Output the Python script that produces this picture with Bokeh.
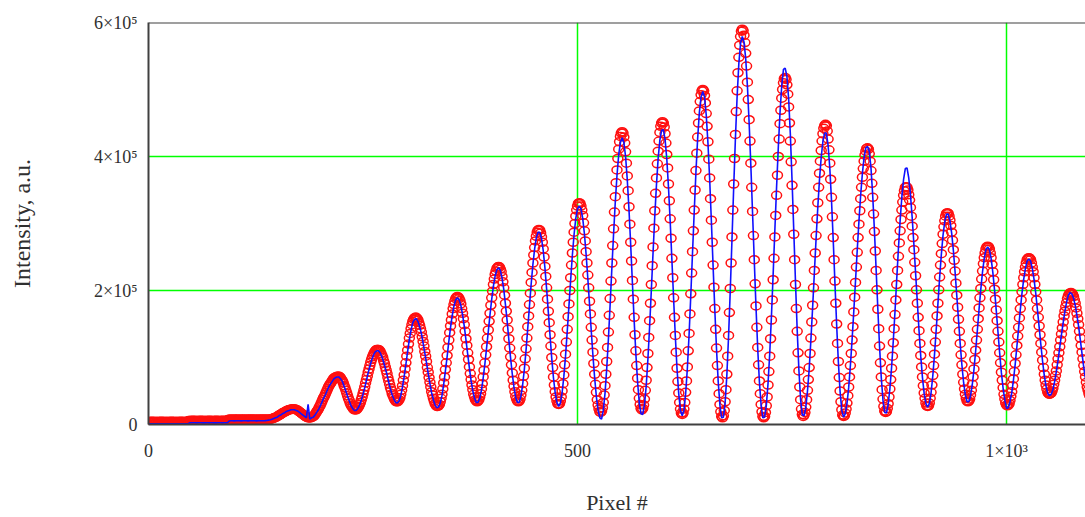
from bokeh.plotting import figure
from bokeh.models import ColumnDataSource, FixedTicker, Span
from bokeh.embed import file_html
from bokeh.resources import INLINE

# Measured intensity of every detector pixel (pixel 0, 1, 2, ...), in 10^3 counts
raw_counts_k = [
    # pixels 0-46
    4.5, 4.6, 4.4, 4.5, 4.7, 4.5, 4.3, 4.5, 4.6, 4.4, 4.5, 4.5, 4.6, 4.4, 4.5, 4.7, 4.5, 4.4, 4.6, 4.5,
    4.3, 4.5, 4.6, 4.5, 4.4, 4.6, 4.5, 4.7, 4.5, 4.4, 4.6, 4.5, 4.5, 4.3, 4.6, 4.5, 4.4, 4.6, 4.7, 4.5,
    4.6, 4.5, 4.4, 4.6, 4.5, 4.7, 4.6,
    # pixels 47-92
    5.8, 6.0, 6.1, 5.9, 6.0, 6.2, 5.9, 6.0, 6.1, 5.8, 6.0, 6.1, 5.9, 6.0, 6.2, 6.0, 5.9, 6.1, 6.0, 5.8,
    6.0, 6.1, 6.0, 5.9, 6.2, 6.0, 6.1, 5.9, 6.0, 6.1, 5.8, 6.0, 6.2, 6.0, 5.9, 6.1, 6.0, 6.0, 5.9, 6.1,
    6.2, 6.0, 6.1, 5.9, 6.0, 6.2,
    # pixels 93-140
    7.6, 7.8, 7.7, 7.9, 7.8, 7.6, 7.8, 8.0, 7.7, 7.8, 7.9, 7.7, 7.8, 7.6, 7.8, 8.0, 7.8, 7.7, 7.9, 7.8,
    7.6, 7.8, 7.9, 7.7, 7.8, 8.0, 7.8, 7.7, 7.9, 7.8, 7.7, 7.8, 8.0, 7.8, 7.6, 7.9, 7.8, 7.7, 7.8, 8.0,
    7.9, 7.8, 7.7, 7.9, 8.0, 7.8, 7.9, 8.0,
    # pixels 141-188
    8, 8, 8, 9, 9, 10, 10, 11, 11, 12, 13, 14, 14, 15, 16, 17, 18, 18, 19, 20, 20, 21, 22, 22, 22, 23, 23, 23, 23,
    23, 23, 22, 22, 21, 20, 19, 18, 17, 16, 15, 14, 13, 12, 11, 11, 10, 10, 10,
    # pixels 189-241
    10, 11, 11, 12, 13, 15, 17, 19, 21, 23, 26, 28, 31, 34, 37, 40, 42, 45, 48, 51, 54, 57, 59, 61, 63, 65, 67, 69, 70, 71, 71, 72, 72,
    72, 71, 69, 67, 65, 62, 58, 55, 51, 47, 43, 39, 36, 32, 29, 27, 25, 23, 22, 22,
    # pixels 242-290
    22, 23, 25, 27, 30, 33, 37, 41, 46, 51, 56, 62, 67, 72, 78, 83, 88, 93, 97, 101, 104, 107, 109, 111, 112, 112,
    112, 111, 109, 106, 103, 100, 95, 91, 86, 81, 76, 70, 65, 60, 55, 51, 46, 43, 40, 37, 35, 34, 34,
    # pixels 291-337
    35, 37, 40, 45, 51, 58, 66, 74, 83, 92, 102, 111, 120, 129, 136, 143, 149, 154, 157, 159, 160,
    160, 158, 156, 152, 148, 143, 138, 131, 124, 117, 109, 102, 94, 85, 78, 70, 63, 56, 49, 44, 39, 35, 31, 29, 27, 27,
    # pixels 338-383
    28, 30, 34, 39, 45, 53, 62, 71, 82, 92, 103, 115, 126, 137, 147, 156, 165, 173, 179, 184, 188, 190, 191,
    190, 188, 185, 180, 173, 166, 158, 149, 139, 128, 118, 107, 97, 86, 76, 67, 59, 52, 45, 41, 37, 35, 34,
    # pixels 384-431
    35, 37, 41, 46, 53, 61, 71, 81, 92, 104, 116, 129, 141, 154, 166, 178, 189, 199, 209, 217, 224, 229, 233, 235, 236,
    235, 232, 228, 221, 213, 204, 193, 181, 169, 156, 142, 128, 114, 101, 89, 77, 66, 57, 49, 42, 38, 35, 34,
    # pixels 432-478
    35, 38, 44, 51, 61, 72, 84, 98, 113, 129, 146, 162, 179, 196, 212, 227, 241, 253, 264, 274, 281, 287, 290, 291,
    290, 286, 280, 272, 262, 250, 236, 221, 204, 187, 169, 152, 134, 117, 100, 85, 71, 59, 49, 41, 35, 31, 30,
    # pixels 479-527
    31, 35, 41, 50, 61, 74, 89, 105, 123, 142, 161, 180, 200, 219, 238, 256, 272, 287, 300, 311, 320, 326, 330, 331,
    330, 326, 320, 312, 301, 289, 274, 258, 241, 223, 204, 184, 165, 145, 126, 108, 91, 75, 60, 48, 37, 29, 23, 19, 18,
    # pixels 528-575
    20, 25, 33, 44, 58, 75, 94, 115, 138, 163, 188, 214, 241, 267, 292, 317, 340, 361, 380, 397, 411, 422, 430, 435, 437,
    435, 429, 420, 407, 390, 371, 349, 325, 299, 272, 244, 215, 187, 160, 134, 110, 88, 69, 52, 39, 30, 24, 22,
    # pixels 576-622
    24, 29, 38, 51, 66, 85, 106, 130, 155, 181, 209, 237, 265, 293, 319, 345, 368, 389, 408, 423, 436, 445, 450, 452,
    450, 444, 434, 420, 403, 383, 359, 334, 307, 278, 248, 219, 189, 160, 133, 108, 84, 64, 47, 33, 23, 17, 15,
    # pixels 623-669
    17, 23, 33, 48, 65, 86, 110, 136, 165, 195, 226, 258, 289, 320, 350, 379, 405, 429, 450, 468, 482, 492, 498, 500,
    498, 491, 480, 464, 445, 422, 396, 368, 337, 305, 272, 238, 205, 173, 142, 114, 88, 65, 46, 30, 19, 12, 10,
    # pixels 670-717
    13, 21, 34, 52, 75, 102, 133, 167, 203, 241, 280, 320, 359, 397, 433, 467, 498, 525, 548, 566, 579, 587, 590,
    588, 581, 570, 554, 535, 511, 485, 455, 423, 390, 354, 318, 282, 246, 210, 177, 145, 115, 89, 65, 46, 30, 19, 12, 10,
    # pixels 718-763
    12, 18, 28, 41, 59, 79, 102, 128, 156, 186, 216, 248, 280, 312, 342, 372, 400, 426, 449, 469, 487, 500, 510, 516, 518,
    515, 507, 493, 474, 450, 423, 392, 357, 321, 284, 246, 209, 173, 139, 107, 80, 56, 37, 23, 15, 12,
    # pixels 764-810
    14, 18, 26, 37, 51, 67, 85, 106, 129, 153, 178, 204, 230, 256, 282, 307, 331, 354, 375, 393, 409, 423, 434, 442, 446, 448,
    446, 438, 426, 410, 390, 366, 339, 310, 279, 246, 214, 181, 150, 121, 94, 70, 50, 34, 22, 14, 12,
    # pixels 811-859
    13, 17, 23, 32, 43, 56, 71, 88, 106, 126, 146, 168, 190, 212, 235, 257, 279, 299, 319, 337, 354, 369, 382, 393, 402, 408, 412, 413,
    411, 404, 393, 379, 360, 339, 314, 288, 259, 230, 201, 172, 143, 117, 92, 71, 52, 38, 27, 20, 18,
    # pixels 860-908
    19, 24, 31, 41, 53, 67, 84, 102, 122, 143, 164, 186, 209, 230, 251, 271, 289, 306, 320, 332, 342, 349, 354, 355,
    354, 350, 343, 335, 324, 311, 296, 279, 261, 242, 222, 201, 181, 160, 140, 121, 103, 86, 71, 58, 47, 39, 32, 28, 27,
    # pixels 909-955
    28, 32, 39, 48, 59, 73, 88, 105, 123, 142, 162, 181, 201, 220, 238, 255, 270, 284, 295, 304, 311, 315, 316,
    315, 311, 305, 297, 287, 275, 261, 245, 229, 211, 193, 175, 157, 139, 121, 104, 89, 75, 63, 53, 45, 39, 35, 34,
    # pixels 956-1001
    35, 38, 44, 51, 60, 71, 83, 97, 111, 126, 142, 158, 174, 189, 203, 217, 229, 240, 249, 256, 262, 265, 266,
    265, 262, 256, 249, 239, 228, 216, 202, 187, 171, 155, 139, 123, 107, 92, 78, 66, 55, 45, 38, 32, 29, 28,
    # pixels 1002-1050
    29, 31, 36, 42, 49, 58, 68, 79, 91, 104, 118, 132, 145, 159, 173, 186, 198, 209, 219, 228, 235, 241, 246, 248, 249,
    248, 246, 241, 235, 228, 219, 209, 198, 186, 173, 160, 147, 134, 121, 108, 96, 85, 75, 66, 59, 53, 48, 46, 45,
    # pixels 1051-1099
    46, 47, 50, 54, 60, 66, 73, 80, 89, 98, 107, 116, 126, 135, 144, 153, 162, 169, 176, 182, 188, 192, 195, 196, 197,
    196, 194, 191, 186, 181, 174, 166, 158, 149, 139, 129, 118, 108, 98, 88, 79, 71, 63, 56, 51, 46, 43, 41, 40,
]

# Fitted model on every second pixel (0, 2, 4, ...), in 10^3 counts
fit_counts_k = [
    # pixels 0-46
    0.9, 1.0, 1.1, 1.0, 0.9, 1.0, 1.1, 1.0, 1.0, 0.9, 1.1, 1.0, 1.0, 1.1, 0.9, 1.0, 1.0, 1.1, 1.0, 0.9,
    1.0, 1.1, 1.0, 1.2,
    # pixels 48-92
    2.4, 2.5, 2.6, 2.5, 2.4, 2.5, 2.6, 2.5, 2.5, 2.4, 2.6, 2.5, 2.5, 2.6, 2.4, 2.5, 2.5, 2.6, 2.5, 2.4,
    2.5, 2.6, 2.7,
    # pixels 94-140
    5.3, 5.5, 5.6, 5.4, 5.5, 5.6, 5.5, 5.4, 5.5, 5.6, 5.5, 5.4, 5.6, 5.5, 5.5, 5.6, 5.4, 5.5, 5.6, 5.5,
    5.7, 5.8, 6.0, 6.5,
    # pixels 142-240
    7, 8, 9, 10, 11, 13, 14, 16, 17, 19, 20, 21, 22, 22,
    22, 21, 20, 18, 16, 14, 12, 10, 30, 8,
    10, 11, 14, 18, 22, 27, 33, 39, 44, 50, 56, 60, 64, 68, 70, 71,
    71, 68, 64, 57, 50, 42, 35, 28, 24, 21,
    # pixels 242-336
    21, 24, 29, 36, 45, 55, 66, 77, 87, 96, 103, 108, 110,
    110, 107, 101, 93, 84, 74, 63, 53, 44, 38, 33, 32,
    35, 43, 56, 72, 90, 109, 127, 141, 152, 157,
    158, 154, 146, 136, 122, 107, 92, 76, 61, 47, 37, 29, 25,
    # pixels 338-430
    26, 32, 43, 60, 80, 101, 124, 145, 163, 177, 186, 189,
    186, 178, 164, 147, 126, 105, 84, 65, 50, 39, 33,
    33, 39, 51, 69, 90, 114, 139, 164, 187, 207, 222, 231, 234,
    230, 219, 202, 179, 154, 126, 99, 75, 55, 40, 33,
    # pixels 432-526
    33, 42, 59, 82, 111, 144, 177, 210, 239, 262, 279, 287,
    287, 278, 260, 234, 202, 167, 132, 98, 69, 47, 33, 27,
    32, 47, 71, 102, 139, 177, 216, 253, 284, 308, 322, 326,
    322, 308, 285, 254, 218, 179, 140, 102, 69, 41, 21, 10,
    # pixels 528-622
    8, 21, 46, 83, 128, 179, 233, 284, 332, 372, 403, 421, 428,
    421, 400, 365, 320, 267, 210, 155, 105, 63, 32, 16,
    15, 29, 57, 97, 146, 200, 256, 310, 358, 398, 425, 439,
    440, 426, 397, 354, 303, 245, 187, 131, 82, 45, 21, 13,
    # pixels 624-716
    21, 46, 84, 134, 193, 256, 318, 377, 427, 466, 489, 497,
    489, 462, 420, 366, 303, 236, 171, 112, 63, 28, 10,
    11, 32, 73, 131, 200, 276, 354, 427, 490, 539, 569, 579,
    571, 546, 505, 450, 386, 315, 244, 175, 113, 63, 28, 10,
    # pixels 718-810
    11, 28, 61, 106, 162, 225, 291, 355, 414, 466, 506, 530, 532,
    520, 487, 434, 365, 290, 213, 141, 81, 37, 14,
    13, 25, 50, 83, 127, 175, 226, 277, 324, 366, 399, 423, 435,
    435, 417, 383, 334, 275, 211, 148, 93, 49, 21, 11,
    # pixels 812-908
    16, 31, 55, 88, 127, 170, 215, 261, 304, 343, 375, 399, 413, 415,
    408, 383, 342, 290, 231, 172, 116, 70, 36, 18,
    17, 30, 53, 85, 125, 169, 217, 263, 305, 340, 366, 382,
    383, 368, 343, 309, 269, 226, 183, 140, 102, 70, 46, 31, 26,
    # pixels 910-1000
    31, 47, 72, 104, 141, 180, 219, 254, 283, 303, 314,
    314, 304, 286, 260, 228, 192, 156, 120, 88, 62, 44, 34,
    34, 43, 59, 82, 110, 141, 173, 202, 228, 248, 261, 265,
    261, 248, 227, 201, 170, 138, 106, 77, 54, 36, 24,
    # pixels 1002-1098
    25, 34, 47, 66, 89, 116, 143, 171, 196, 217, 233, 244, 247,
    244, 233, 217, 196, 171, 145, 119, 94, 73, 57, 46, 43,
    45, 52, 64, 79, 96, 115, 134, 152, 169, 183, 193, 197,
    195, 189, 178, 163, 146, 126, 105, 85, 68, 54, 44, 39,
]

x_ticks = [0, 500, 1000]
x_tick_labels = ["0", "500", "1×10³"]
y_ticks = [0, 200000, 400000, 600000]
y_tick_labels = ["0", "2×10⁵", "4×10⁵", "6×10⁵"]

assert len(raw_counts_k) == 1100 and len(fit_counts_k) == 550

SERIF = "Liberation Serif"
TEXT = "#303030"
FRAME = "#404040"

raw = ColumnDataSource(data=dict(
    pixel=list(range(len(raw_counts_k))),
    intensity=[v * 1000 for v in raw_counts_k],
))
fit = ColumnDataSource(data=dict(
    pixel=list(range(0, 2 * len(fit_counts_k), 2)),
    intensity=[v * 1000 for v in fit_counts_k],
))

p = figure(
    width=1085, height=517,
    x_range=(0, 1092), y_range=(0, 600000),
    output_backend="svg", toolbar_location=None,
    min_border_left=148, min_border_right=0,
    min_border_top=22, min_border_bottom=92,
)
p.outline_line_color = None
p.background_fill_color = "white"
p.border_fill_color = "white"

# measured samples as open red rings, fit as a blue line on top
p.ellipse(x="pixel", y="intensity", width=10, height=8,
          width_units="screen", height_units="screen",
          fill_color=None, line_color="#ff1010", line_width=1.5, source=raw)
p.line(x="pixel", y="intensity", line_color="#1010ff", line_width=1.6, source=fit)

for ax, ticks, labels in ((p.xaxis, x_ticks, x_tick_labels), (p.yaxis, y_ticks, y_tick_labels)):
    ax.ticker = FixedTicker(ticks=ticks)
    ax.major_label_overrides = {t: s for t, s in zip(ticks, labels)}
    ax.axis_line_color = FRAME
    ax.axis_line_width = 2
    ax.major_tick_line_color = None
    ax.minor_tick_line_color = None
    ax.major_label_text_font = SERIF
    ax.major_label_text_font_size = "18px"
    ax.major_label_text_color = TEXT
    ax.axis_label_text_font = SERIF
    ax.axis_label_text_font_style = "normal"
    ax.axis_label_text_color = TEXT

p.xaxis.major_label_standoff = 10
p.yaxis.major_label_standoff = 5

p.yaxis.axis_label = "Intensity, a.u."
p.yaxis.axis_label_text_font_size = "24px"
p.yaxis.axis_label_standoff = 56

p.xaxis.axis_label = "Pixel #"
p.xaxis.axis_label_text_font_size = "22px"
p.xaxis.axis_label_standoff = 26

for grid in (p.xgrid, p.ygrid):
    grid.grid_line_color = "#00ff00"
    grid.grid_line_width = 1.5

# upper edge of the frame
p.add_layout(Span(location=600000, dimension="width", line_color=FRAME, line_width=2))

open("out.html", "w").write(file_html(p, INLINE))
